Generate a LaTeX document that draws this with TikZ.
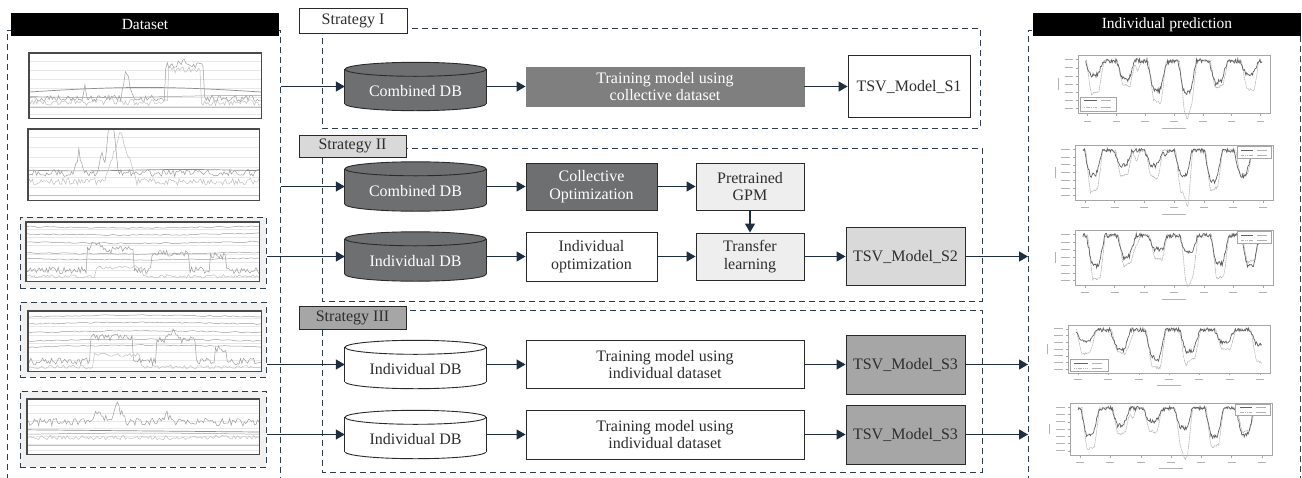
\documentclass[tikz,border=0pt]{standalone}
\usepackage{fontspec}
\setmainfont{Liberation Serif}
\usetikzlibrary{arrows.meta}

\definecolor{ink}{HTML}{2E2E2E}
\definecolor{edge}{HTML}{2A2A2A}
\definecolor{navy}{HTML}{1E2E3E}
\definecolor{dashc}{HTML}{2E3D4C}
\definecolor{darkfill}{HTML}{6E6F71}
\definecolor{midfill}{HTML}{7F7F7F}
\definecolor{lightfill}{HTML}{EEEEEE}
\definecolor{palefill}{HTML}{D9D9D9}
\definecolor{greyfill}{HTML}{A6A6A6}
\definecolor{gridc}{HTML}{E8E8E8}
\definecolor{shade}{HTML}{F1F1F1}

\tikzset{
  every node/.style={font=\fontsize{16}{17.5}\selectfont, text=ink},
  sz/.style 2 args={minimum width=#1pt, minimum height=#2pt},
  stepbox/.style={draw=edge, line width=0.9pt, align=center, inner sep=0pt},
  tagbox/.style={draw=edge, line width=0.9pt, inner sep=0pt, font=\fontsize{16}{17}\selectfont},
  headbar/.style={fill=black, text=white, inner sep=0pt, font=\fontsize{15.5}{17}\selectfont},
  dbnode/.style={inner sep=0pt},
  dbline/.style={draw=edge, line width=0.9pt},
  panelline/.style={draw=dashc, line width=0.9pt, dash pattern=on 6pt off 4pt},
  conn/.style={draw=navy, line width=1.3pt, -{Triangle[length=9pt,width=10pt]}},
  plotframe/.style={draw=edge!85, line width=1.3pt},
  sigdark/.style={draw=black!45, line width=0.7pt},
  sigmid/.style={draw=black!38, line width=0.5pt},
  siglight/.style={draw=black!25, line width=0.5pt},
  axisc/.style={draw=black!35, line width=0.4pt},
  ticklab/.style={draw=black!30, line width=0.7pt},
  tgtline/.style={draw=black!30, line width=0.6pt, dash pattern=on 1.2pt off 0.6pt},
  predline/.style={draw=black!62, line width=0.7pt},
}

% database cylinder drawn around an invisible node: name, fill, half width
\newcommand\dbdraw[3]{%
  \draw[dbline, fill=#2] ([yshift=7pt]#1.south) ellipse [x radius=#3pt, y radius=7pt];
  \fill[#2] ([yshift=7pt]#1.south west) rectangle ([yshift=-7pt]#1.north east);
  \draw[dbline] ([yshift=7pt]#1.south west) -- ([yshift=-7pt]#1.north west);
  \draw[dbline] ([yshift=7pt]#1.south east) -- ([yshift=-7pt]#1.north east);
  \draw[dbline, fill=#2] ([yshift=-7pt]#1.north) ellipse [x radius=#3pt, y radius=7pt];
}

% horizontal grid of a raw signal panel (unit coordinates)
\newcommand\sigrid{%
  \foreach \g in {0.12,0.26,0.40,0.54,0.68,0.82,0.94}
    \draw[gridc, line width=0.5pt] (0,\g) -- (1,\g);
}

% prediction chart: node, width, height, frequency, phase, legend corner (0 = lower left, 1 = upper right)
\newcommand\predfig[6]{%
  \begin{scope}[shift={(#1.north west)}, x={(#2pt,0pt)}, y={(0pt,-#3pt)}]
    \draw[axisc] (0,0) rectangle (1,1);
    \foreach \t in {0.05,0.2,0.35,0.5,0.65,0.8,0.95}{
      \draw[axisc] (\t,1) -- (\t,1.05);
      \draw[ticklab] (\t-0.02,1.14) -- (\t+0.02,1.14);
    }
    \foreach \t in {0.08,0.22,0.36,0.5,0.64,0.78,0.92}{
      \draw[axisc] (-0.012,\t) -- (0,\t);
      \draw[ticklab] (-0.07,\t) -- (-0.025,\t);
    }
    \draw[ticklab] (0.44,1.26) -- (0.56,1.26);
    \draw[ticklab] (-0.1,0.4) -- (-0.1,0.6);
    \draw[tgtline] plot[domain=0.04:0.96, samples=240]
      (\x, {0.1+(0.3+0.1*sin(360*1.7*\x+2*#5))*(1-max(-1,min(1,2.2*sin(360*#4*\x+#5)+0.6)))
             +0.25*max(0,1-abs(\x-0.57)/0.025)+0.2*max(0,1-abs(\x-0.31)/0.02)+0.02*rand});
    \draw[predline] plot[domain=0.04:0.96, samples=240]
      (\x, {0.1+(0.2+0.08*sin(360*1.3*\x+3*#5))*(1-max(-1,min(1,1.8*sin(360*#4*\x+#5+10)+0.5)))
             +0.04*rand+0.08*max(0,1-abs(\x-0.45)/0.03)});
    \ifnum#6=0
      \draw[axisc, fill=white] (0.01,0.72) rectangle (0.2,0.97);
      \draw[predline] (0.03,0.79) -- (0.1,0.79);
      \draw[tgtline] (0.03,0.9) -- (0.1,0.9);
      \draw[ticklab] (0.12,0.79) -- (0.17,0.79);
      \draw[ticklab] (0.12,0.9) -- (0.17,0.9);
    \else
      \draw[axisc, fill=white] (0.82,0.03) rectangle (0.99,0.24);
      \draw[predline] (0.84,0.09) -- (0.9,0.09);
      \draw[tgtline] (0.84,0.18) -- (0.9,0.18);
      \draw[ticklab] (0.92,0.09) -- (0.97,0.09);
      \draw[ticklab] (0.92,0.18) -- (0.97,0.18);
    \fi
  \end{scope}
}

\begin{document}
\begin{tikzpicture}[x=1pt, y=-1pt]
\useasboundingbox (0,0) rectangle (1302,477);
\clip (0,0) rectangle (1302,477);
\fill[white] (0,0) rectangle (1302,477);
\pgfmathsetseed{11}

% ---------------- side panels ----------------
\node[panelline, anchor=north west, sz={273}{460}, inner sep=0pt] (dsp) at (7,30) {};
\node[headbar, sz={268}{23}] (dshead) at (145,24.5) {Dataset};
\node[panelline, anchor=north west, sz={272}{460}, inner sep=0pt] (prp) at (1028,30) {};
\node[headbar, sz={268}{23}] (prhead) at (1167,24.5) {Individual prediction};

% ---------------- strategy frames ----------------
\draw[panelline] (322,28) rectangle (980,128);
\node[tagbox, fill=white, sz={108}{25}] (tag1) at (353,20.5) {Strategy I};
\draw[panelline] (322,148) rectangle (982,301);
\node[tagbox, fill=palefill, sz={107}{22}] (tag2) at (352.5,146) {Strategy II};
\draw[panelline] (322,310) rectangle (982,472);
\node[tagbox, fill=greyfill, sz={107}{23}] (tag3) at (352.5,317.5) {Strategy III};

% ---------------- raw signals ----------------
\node[fill=white, inner sep=0pt, anchor=north west, sz={232}{65}] (p1) at (29,53) {};
\node[fill=white, inner sep=0pt, anchor=north west, sz={231}{71}] (p2) at (28,129) {};
\node[panelline, fill=shade, inner sep=0pt, anchor=north west, sz={246}{71}] (p3o) at (20,217) {};
\node[fill=white, inner sep=0pt, anchor=north west, sz={233}{59}] (p3) at (26,222) {};
\node[panelline, fill=shade, inner sep=0pt, anchor=north west, sz={246}{75}] (p4o) at (20,302) {};
\node[fill=white, inner sep=0pt, anchor=north west, sz={233}{60}] (p4) at (28,311) {};
\node[panelline, fill=shade, inner sep=0pt, anchor=north west, sz={246}{76}] (p5o) at (20,391) {};
\node[fill=white, inner sep=0pt, anchor=north west, sz={232}{55}] (p5) at (27,399) {};

\begin{scope}[shift={(p1.north west)}, x={(232pt,0pt)}, y={(0pt,-65pt)}]
  \clip (0,0) rectangle (1,1);
  \sigrid
  \draw[sigdark] plot[domain=0:1, samples=40] (\x, {0.6-0.07*sin(180*\x)});
  \draw[sigmid] plot[domain=0:1, samples=40] (\x, {0.67+0.015*sin(300*\x)});
  \draw[siglight] (0,0.83) -- (1,0.83);
  \draw[sigmid] plot[domain=0:1, samples=150]
    (\x, {0.7+0.05*rand-0.45*max(0,1-abs(\x-0.42)/0.025)-0.5*(\x>0.585)*(\x<0.755)-0.2*max(0,1-abs(\x-0.24)/0.01)-0.1*max(0,1-abs(\x-0.67)/0.04)});
  \draw[siglight] plot[domain=0:1, samples=150]
    (\x, {0.76+0.05*rand-0.5*(\x>0.6)*(\x<0.74)-0.1*max(0,1-abs(\x-0.34)/0.02)});
\end{scope}
\draw[plotframe] (p1.south west) rectangle (p1.north east);

\begin{scope}[shift={(p2.north west)}, x={(231pt,0pt)}, y={(0pt,-71pt)}]
  \clip (0,0) rectangle (1,1);
  \sigrid
  \draw[sigdark] plot[domain=0:1, samples=40] (\x, {0.58+0.01*sin(400*\x)});
  \draw[siglight] (0,0.93) -- (1,0.93);
  \draw[sigmid] plot[domain=0:1, samples=160]
    (\x, {0.62+0.05*rand-1.0*max(0,1-abs(\x-0.36)/0.03)-0.3*max(0,1-abs(\x-0.22)/0.02)-0.35*max(0,1-abs(\x-0.32)/0.015)});
  \draw[siglight] plot[domain=0:1, samples=160]
    (\x, {0.74+0.05*rand-0.7*max(0,1-abs(\x-0.4)/0.07)});
\end{scope}
\draw[plotframe] (p2.south west) rectangle (p2.north east);

\begin{scope}[shift={(p3.north west)}, x={(233pt,0pt)}, y={(0pt,-59pt)}]
  \clip (0,0) rectangle (1,1);
  \sigrid
  \foreach \h in {0.08,0.2,0.34,0.52,0.62}
    \draw[sigmid] plot[domain=0:1, samples=60] (\x, {\h+0.01*rand+0.02*sin(200*\x)});
  \draw[sigmid] plot[domain=0:1, samples=160]
    (\x, {0.82+0.06*rand-0.35*(\x>0.26)*(\x<0.46)-0.3*(\x>0.54)*(\x<0.7)-0.25*(\x>0.79)*(\x<0.86)-0.15*max(0,1-abs(\x-0.3)/0.03)});
  \draw[siglight] plot[domain=0:1, samples=120]
    (\x, {0.92+0.03*rand-0.15*(\x>0.3)*(\x<0.5)});
\end{scope}
\draw[plotframe] (p3.south west) rectangle (p3.north east);

\begin{scope}[shift={(p4.north west)}, x={(233pt,0pt)}, y={(0pt,-60pt)}]
  \clip (0,0) rectangle (1,1);
  \sigrid
  \foreach \h in {0.1,0.22,0.36,0.5,0.6}
    \draw[sigmid] plot[domain=0:1, samples=60] (\x, {\h+0.01*rand-0.03*sin(180*\x)});
  \draw[sigmid] plot[domain=0:1, samples=160]
    (\x, {0.84+0.06*rand-0.4*(\x>0.27)*(\x<0.45)-0.35*(\x>0.55)*(\x<0.72)-0.2*(\x>0.8)*(\x<0.85)-0.15*max(0,1-abs(\x-0.62)/0.03)});
  \draw[siglight] plot[domain=0:1, samples=120]
    (\x, {0.93+0.03*rand-0.2*(\x>0.28)*(\x<0.48)});
\end{scope}
\draw[plotframe] (p4.south west) rectangle (p4.north east);

\begin{scope}[shift={(p5.north west)}, x={(232pt,0pt)}, y={(0pt,-55pt)}]
  \clip (0,0) rectangle (1,1);
  \sigrid
  \draw[sigmid] plot[domain=0:1, samples=160]
    (\x, {0.42+0.07*rand-0.3*max(0,1-abs(\x-0.39)/0.04)-0.2*max(0,1-abs(\x-0.31)/0.04)-0.15*max(0,1-abs(\x-0.6)/0.03)});
  \draw[sigdark] plot[domain=0:1, samples=40] (\x, {0.56+0.04*\x});
  \draw[sigmid] plot[domain=0:1, samples=40] (\x, {0.64-0.02*sin(180*\x)});
  \draw[siglight] plot[domain=0:1, samples=140] (\x, {0.7+0.04*rand});
  \draw[siglight] (0,0.84) -- (1,0.84);
\end{scope}
\draw[plotframe] (p5.south west) rectangle (p5.north east);

% ---------------- prediction charts ----------------
\node[inner sep=0pt, anchor=north west, sz={192}{58}] (q1) at (1078,55) {};
\node[inner sep=0pt, anchor=north west, sz={198}{55}] (q2) at (1075,145) {};
\node[inner sep=0pt, anchor=north west, sz={198}{55}] (q3) at (1075,230) {};
\node[inner sep=0pt, anchor=north west, sz={202}{48}] (q4) at (1068,325) {};
\node[inner sep=0pt, anchor=north west, sz={202}{52}] (q5) at (1070,403) {};
\predfig{q1}{192}{58}{6.2}{70}{0}
\predfig{q2}{198}{55}{6.6}{40}{1}
\predfig{q3}{198}{55}{6.4}{20}{1}
\predfig{q4}{202}{48}{5.8}{80}{0}
\predfig{q5}{202}{52}{6.5}{30}{1}

% ---------------- Strategy I ----------------
\node[dbnode, sz={141}{48}] (cyl1) at (415.5,86.5) {};
\dbdraw{cyl1}{darkfill}{70.5}
\node[text=white] (cyl1t) at ([yshift=-5pt]cyl1.center) {Combined DB};
\node[stepbox, draw=midfill, fill=midfill, text=white, sz={278}{39}] (train1) at (665,86.5)
  {Training model using\\collective dataset};
\node[stepbox, fill=white, sz={122}{62}] (tsv1) at (909,86.5) {TSV\_Model\_S1};

% ---------------- Strategy II ----------------
\node[dbnode, sz={141}{49}] (cyl2) at (415.5,186.5) {};
\dbdraw{cyl2}{darkfill}{70.5}
\node[text=white] (cyl2t) at ([yshift=-5pt]cyl2.center) {Combined DB};
\node[stepbox, fill=darkfill, text=white, sz={131}{47}] (coll) at (591.5,186.5)
  {Collective\\Optimization};
\node[stepbox, fill=lightfill, sz={108}{47}] (pre) at (750,186.5) {Pretrained\\GPM};

\node[dbnode, sz={141}{49}] (cyl3) at (415.5,256.5) {};
\dbdraw{cyl3}{darkfill}{70.5}
\node[text=white] (cyl3t) at ([yshift=-5pt]cyl3.center) {Individual DB};
\node[stepbox, fill=white, sz={131}{49}] (indopt) at (591.5,256.5) {Individual\\optimization};
\node[stepbox, fill=lightfill, sz={108}{47}] (trans) at (750,256.5) {Transfer\\learning};
\node[stepbox, fill=palefill, sz={119}{58}] (tsv2) at (905.5,256.5) {TSV\_Model\_S2};

% ---------------- Strategy III ----------------
\node[dbnode, sz={141}{48}] (cyl4) at (415.5,364.5) {};
\dbdraw{cyl4}{white}{70.5}
\node (cyl4t) at ([yshift=-5pt]cyl4.center) {Individual DB};
\node[stepbox, fill=white, sz={278}{48}] (train3) at (665,364.5)
  {Training model using\\individual dataset};
\node[stepbox, fill=greyfill, sz={119}{59}] (tsv3) at (905.5,364.5) {TSV\_Model\_S3};

\node[dbnode, sz={141}{48}] (cyl5) at (415.5,434.5) {};
\dbdraw{cyl5}{white}{70.5}
\node (cyl5t) at ([yshift=-5pt]cyl5.center) {Individual DB};
\node[stepbox, fill=white, sz={278}{49}] (train4) at (665,434.5)
  {Training model using\\individual dataset};
\node[stepbox, fill=greyfill, sz={119}{59}] (tsv4) at (905.5,434.5) {TSV\_Model\_S3};

% ---------------- connectors ----------------
\draw[conn] (cyl1.west -| dsp.east) -- (cyl1.west);
\draw[conn] (cyl2.west -| dsp.east) -- (cyl2.west);
\draw[conn] (cyl3.west -| p3o.east) -- (cyl3.west);
\draw[conn] (cyl4.west -| p4o.east) -- (cyl4.west);
\draw[conn] (cyl5.west -| p5o.east) -- (cyl5.west);

\draw[conn] (cyl1.east) -- (train1.west);
\draw[conn] (train1.east) -- (tsv1.west);

\draw[conn] (cyl2.east) -- (coll.west);
\draw[conn] (coll.east) -- (pre.west);
\draw[conn] (pre.south) -- (trans.north);
\draw[conn] (cyl3.east) -- (indopt.west);
\draw[conn] (indopt.east) -- (trans.west);
\draw[conn] (trans.east) -- (tsv2.west);

\draw[conn] (cyl4.east) -- (train3.west);
\draw[conn] (train3.east) -- (tsv3.west);
\draw[conn] (cyl5.east) -- (train4.west);
\draw[conn] (train4.east) -- (tsv4.west);

\draw[conn] (tsv2.east) -- (tsv2.east -| prp.west);
\draw[conn] (tsv3.east) -- (tsv3.east -| prp.west);
\draw[conn] (tsv4.east) -- (tsv4.east -| prp.west);
\end{tikzpicture}
\end{document}
